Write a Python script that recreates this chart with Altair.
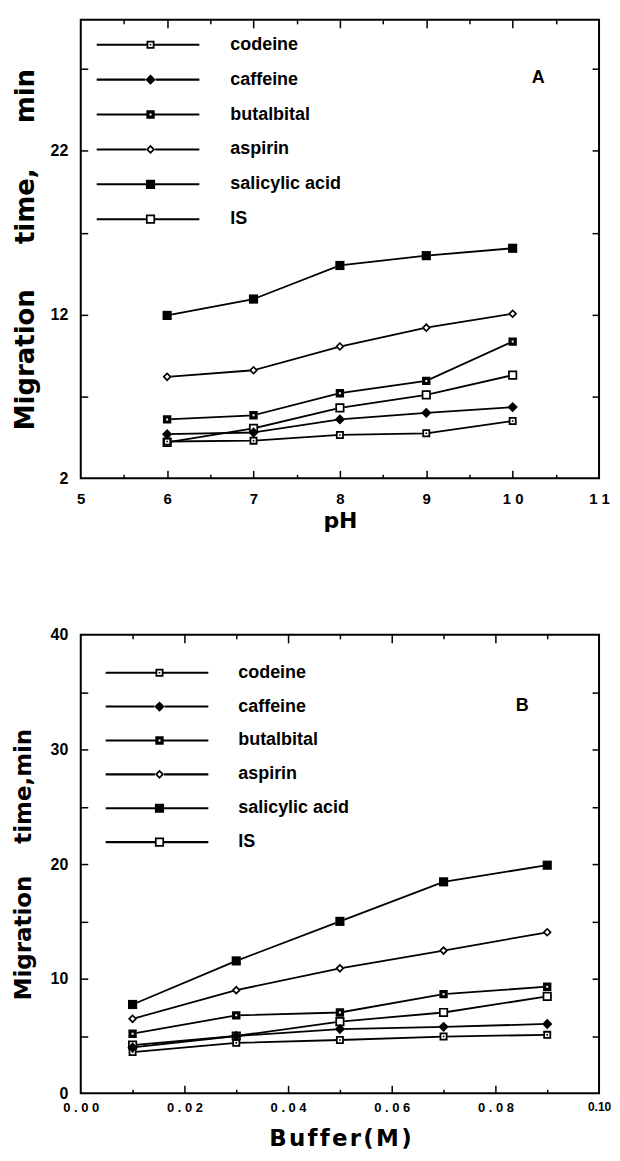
import altair as alt
import pandas as pd

# ---------------- data ----------------
series = ["codeine", "caffeine", "butalbital", "aspirin", "salicylic acid", "IS"]

ph = [6, 7, 8, 9, 10]
ph_codeine = [4.25, 4.3, 4.65, 4.75, 5.5]
ph_caffeine = [4.7, 4.8, 5.6, 6.0, 6.35]
ph_butalbital = [5.6, 5.85, 7.2, 7.95, 10.35]
ph_aspirin = [8.2, 8.6, 10.05, 11.2, 12.05]
ph_salicylic = [11.95, 12.95, 15.0, 15.6, 16.05]
ph_is = [4.2, 5.05, 6.3, 7.1, 8.3]

buffer_m = [0.01, 0.03, 0.05, 0.07, 0.09]
buf_codeine = [3.6, 4.4, 4.65, 4.95, 5.1]
buf_caffeine = [4.0, 5.0, 5.6, 5.8, 6.05]
buf_butalbital = [5.2, 6.8, 7.05, 8.65, 9.3]
buf_aspirin = [6.5, 9.0, 10.9, 12.45, 14.05]
buf_salicylic = [7.75, 11.55, 15.0, 18.45, 19.9]
buf_is = [4.2, 5.0, 6.25, 7.05, 8.45]

ph_x_labels = [5, 6, 7, 8, 9, 10, 11]
ph_x_major = [6, 7, 8, 9, 10]
ph_x_minor = [5.5, 6.5, 7.5, 8.5, 9.5, 10.5]
ph_y_labels = [2, 12, 22]
ph_y_ticks = [7, 12, 17, 22, 27]

buf_x_labels = [0.0, 0.02, 0.04, 0.06, 0.08, 0.10]
buf_x_major = [0.02, 0.04, 0.06, 0.08]
buf_x_minor = [0.01, 0.03, 0.05, 0.07, 0.09]
buf_y_labels = [0, 10, 20, 30, 40]
buf_y_ticks = [5, 10, 15, 20, 25, 30, 35]


def long_frame(xvals, cols):
    rows = []
    for name, vals in zip(series, cols):
        for xv, tv in zip(xvals, vals):
            rows.append({"x": xv, "t": tv, "series": name})
    return pd.DataFrame(rows)


df_a = long_frame(ph, [ph_codeine, ph_caffeine, ph_butalbital, ph_aspirin, ph_salicylic, ph_is])
df_b = long_frame(buffer_m, [buf_codeine, buf_caffeine, buf_butalbital, buf_aspirin, buf_salicylic, buf_is])

# ---------------- marker shapes (unit paths) ----------------
def f(v):
    return ("%.3f" % v).rstrip("0").rstrip(".")


def sq(h):
    return f"M{f(-h)},{f(-h)}H{f(h)}V{f(h)}H{f(-h)}Z"


def sq_hole(h):
    return f"M{f(-h)},{f(-h)}V{f(h)}H{f(h)}V{f(-h)}Z"


def dia(h):
    return f"M0,{f(-h)}L{f(h)},0L0,{f(h)}L{f(-h)},0Z"


def dia_hole(h):
    return f"M0,{f(-h)}L{f(-h)},0L0,{f(h)}L{f(h)},0Z"


marker_black = [
    sq(1.0) + sq_hole(0.55) + sq(0.2),
    dia(1.3),
    sq(1.05) + sq_hole(0.25),
    dia(1.15) + dia_hole(0.55),
    sq(1.15),
    sq(1.15) + sq_hole(0.72),
]
marker_white = [sq(0.9), dia(1.2), sq(1.0), dia(1.1), sq(1.1), sq(1.1)]
edges = [1.0, 1.3, 1.05, 1.15, 1.15, 1.15]


def legend_paths(left, right, half=0.26):
    out = []
    for m, e in zip(marker_black, edges):
        seg_l = f"M{f(-left)},{f(-half)}H{f(-e)}V{f(half)}H{f(-left)}Z"
        seg_r = f"M{f(e)},{f(-half)}H{f(right)}V{f(half)}H{f(e)}Z"
        out.append(m + seg_l + seg_r)
    return out


W, H = 520, 460
SANS = "Liberation Sans, Arial, Helvetica, sans-serif"
WIDE = "DejaVu Sans, Verdana, sans-serif"
NB = "\u00a0"


def tick_axis(orient, vals, size, offset):
    return alt.Axis(orient=orient, offset=offset, values=vals, tickSize=size,
                    tickWidth=1.5, tickColor="black", labels=False, domain=False,
                    grid=False, title=None)


def panel(df, xdom, ydom, xlab, xexpr, xsize, xpad, xmajor, xminor,
          ylab, yticks, xtitle, xtitle_size, xtitle_pad, ytitle, ytitle_size,
          ytitle_pad, tag, tag_xy, leg_xy, leg_rowpad, leg_laboff):
    xs = alt.Scale(domain=xdom, nice=False, zero=False)
    ys = alt.Scale(domain=ydom, nice=False, zero=False)
    base = alt.Chart(df)
    empty = base.transform_filter("false")

    x_lab_axis = alt.Axis(orient="bottom", values=xlab, labelExpr=xexpr, ticks=False,
                          domain=False, grid=False, labelFont=SANS, labelFontSize=xsize,
                          labelFontWeight="bold", labelColor="black", labelPadding=xpad,
                          labelFlush=False, labelOverlap=False,
                          title=xtitle, titleFont=WIDE, titleFontSize=xtitle_size,
                          titleFontWeight="bold", titleColor="black", titlePadding=xtitle_pad)
    y_lab_axis = alt.Axis(orient="left", values=ylab, ticks=False, domain=False, grid=False,
                          labelFont=SANS, labelFontSize=16, labelFontWeight="bold",
                          labelColor="black", labelPadding=13, labelFlush=False,
                          labelOverlap=False,
                          title=ytitle, titleFont=WIDE, titleFontSize=ytitle_size,
                          titleFontWeight="bold", titleColor="black", titlePadding=ytitle_pad)

    lines = base.mark_line(color="black", strokeWidth=1.8).encode(
        x=alt.X("x:Q", scale=xs, axis=x_lab_axis),
        y=alt.Y("t:Q", scale=ys, axis=y_lab_axis),
        detail="series:N",
    )
    whites = base.mark_point(filled=True, color="white", size=64, opacity=1).encode(
        x=alt.X("x:Q", scale=xs, axis=None),
        y=alt.Y("t:Q", scale=ys, axis=None),
        shape=alt.Shape("series:N", scale=alt.Scale(domain=series, range=marker_white), legend=None),
    )
    points = base.mark_point(filled=True, color="black", size=64, opacity=1, strokeWidth=0).encode(
        x=alt.X("x:Q", scale=xs, axis=tick_axis("top", xmajor, 8, -H)),
        y=alt.Y("t:Q", scale=ys, axis=tick_axis("right", yticks, 7, -W)),
        shape=alt.Shape("series:N", scale=alt.Scale(domain=series, range=marker_black), legend=None),
    )
    leg = empty.mark_point(filled=True, color="black", size=64, opacity=1, strokeWidth=0).encode(
        x=alt.X("x:Q", scale=xs, axis=tick_axis("bottom", xmajor, 8, -H)),
        y=alt.Y("t:Q", scale=ys, axis=tick_axis("left", yticks, 7, -W)),
        shape=alt.Shape(
            "series:N",
            scale=alt.Scale(domain=series, range=legend_paths(13.5, 12.25)),
            legend=alt.Legend(
                title=None, orient="none", legendX=leg_xy[0], legendY=leg_xy[1],
                symbolSize=64, symbolStrokeWidth=0, symbolFillColor="black",
                symbolOpacity=1, labelFont=SANS, labelFontSize=18,
                labelFontWeight="bold", labelColor="black", labelOffset=leg_laboff,
                rowPadding=leg_rowpad, labelLimit=0, padding=0,
                labelExpr=("indexof(['caffeine','butalbital','aspirin'], datum.label) >= 0 ? '"
                           + NB + "' + datum.label : datum.label"),
            ),
        ),
    )
    minor_top = empty.mark_point().encode(
        x=alt.X("x:Q", scale=xs, axis=tick_axis("top", xminor, 4, -H)),
        y=alt.Y("t:Q", scale=ys, axis=None),
    )
    minor_bottom = empty.mark_point().encode(
        x=alt.X("x:Q", scale=xs, axis=tick_axis("bottom", xminor, 4, -H)),
        y=alt.Y("t:Q", scale=ys, axis=None),
    )
    tag_layer = alt.Chart(alt.Data(values=[{"tag": tag}])).mark_text(
        font=SANS, fontSize=18, fontWeight="bold", color="black"
    ).encode(text="tag:N", x=alt.value(tag_xy[0]), y=alt.value(tag_xy[1]))

    return alt.layer(lines, whites, points, leg, minor_top, minor_bottom, tag_layer).resolve_scale(
        shape="independent"
    ).resolve_axis(x="independent", y="independent").properties(width=W, height=H)


panel_a = panel(
    df_a, [5, 11], [2, 30], ph_x_labels,
    "join(split(toString(datum.value), ''), ' ')", 15, 13,
    ph_x_major, ph_x_minor, ph_y_labels, ph_y_ticks,
    "pH", 22, 4,
    "Migration" + NB * 5 + "time," + NB * 5 + "min", 26, 12,
    "A", (459, 58), (61, 16), 17, 71,
)
panel_b = panel(
    df_b, [0, 0.1], [0, 40], buf_x_labels,
    ("datum.value > 0.095 ? format(datum.value, '.2f') : "
     "join(split(format(datum.value, '.2f'), ''), ' ')"),
    {"condition": {"test": "datum.value > 0.095", "value": 12}, "value": 13}, 8,
    buf_x_major, buf_x_minor, buf_y_labels, buf_y_ticks,
    "B\u200au\u200af\u200af\u200ae\u200ar\u200a(\u200aM\u200a)", 23, 13,
    "Migration" + NB * 4 + "time,min", 23, 15,
    "B", (443, 71), (70, 29), 16, 70,
)

chart = alt.vconcat(panel_a, panel_b, spacing=94).resolve_scale(
    shape="independent", x="independent", y="independent"
).resolve_legend(shape="independent").properties(
    padding={"left": 3, "top": 8, "right": 0, "bottom": 0}
).configure_view(stroke="black", strokeWidth=2)

chart.save("out.html", embed_options={"renderer": "svg", "actions": False})
